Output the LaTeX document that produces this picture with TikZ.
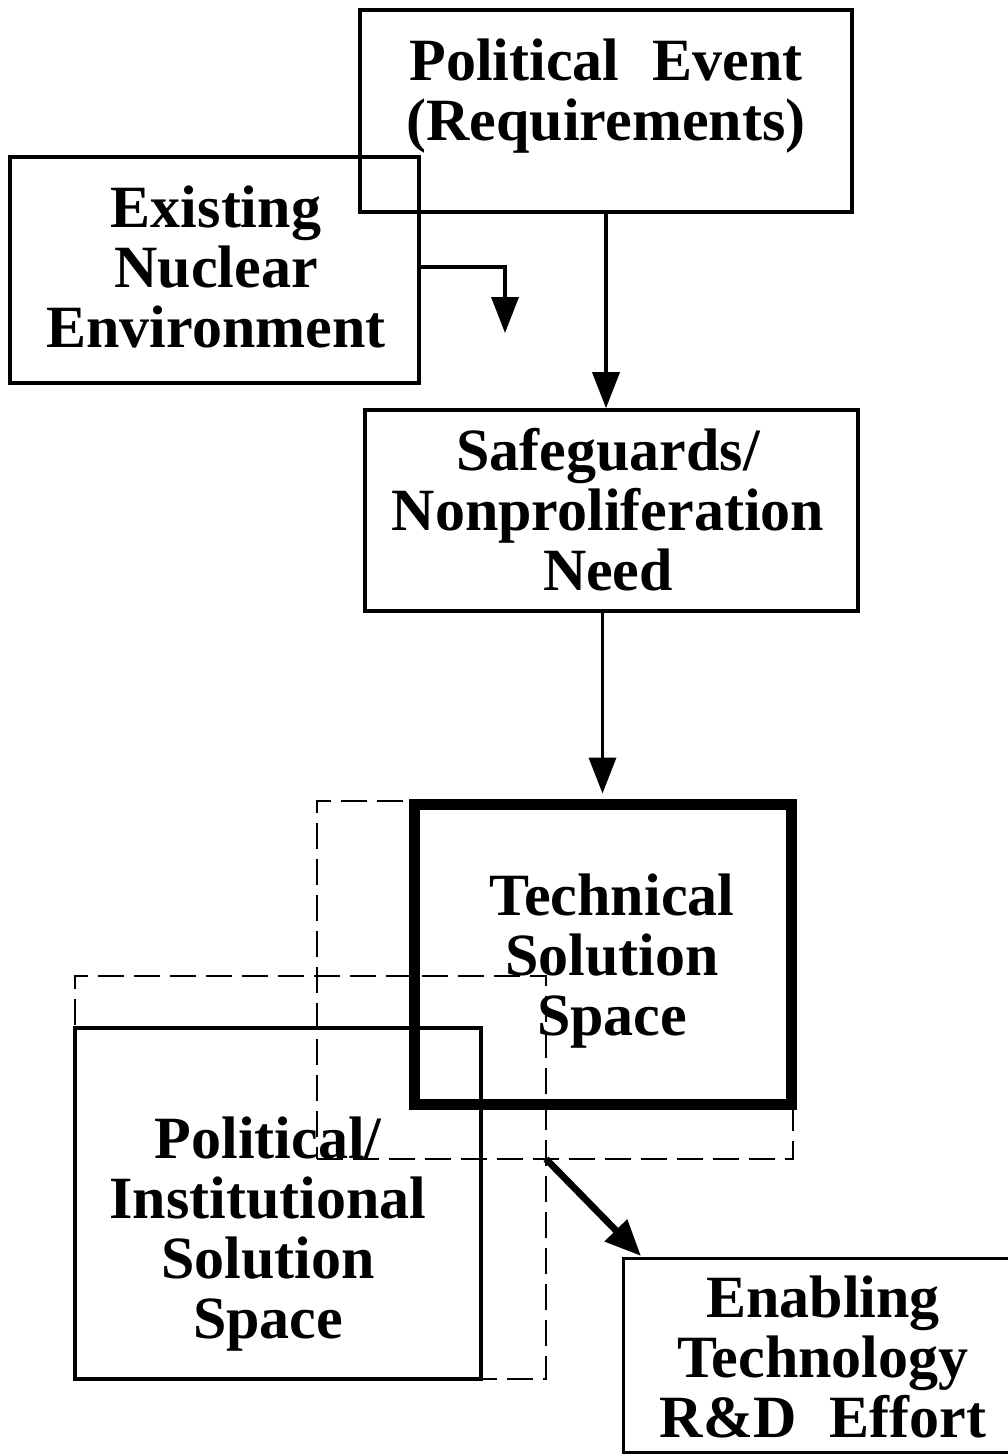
\documentclass[tikz,border=0pt]{standalone}
\usepackage{fontspec}
\setmainfont{Liberation Serif}
\usetikzlibrary{arrows.meta,fit}
\begin{document}
\begin{tikzpicture}[x=0.5pt,y=-0.5pt,
  box/.style={draw, line width=1.8pt, inner sep=0pt},
  boxline/.style={line width=1.8pt},
  thickbox/.style={draw, line width=5.5pt, inner sep=0pt},
  dashbox/.style={draw, line width=1.4pt, dash pattern=on 13pt off 5pt, inner sep=0pt},
  lbl/.style={align=center, inner sep=0pt, font=\fontsize{30}{30}\selectfont\bfseries},
  arr/.style={-{Triangle[length=18pt,width=13.5pt]}, line width=1.8pt},
  bigarr/.style={-{Triangle[length=18pt,width=15pt]}, line width=3.4pt}]
\useasboundingbox (0,0) rectangle (1007,1455);
% dashed solution regions
\node[dashbox, fit={(317,801) (793,1159)}] (dashA) {};
\node[dashbox, fit={(75,976) (546,1379)}] (dashB) {};
% boxes
\node[box, fit={(360,10) (852,212)}] (pe) {};
\node[box, fit={(10,157) (419,383)}] (ene) {};
\node[box, fit={(365,410) (858,611)}] (sg) {};
\node[box, fit={(75,1028) (481,1379)}] (pis) {};
\node[thickbox, fit={(414,804) (791,1104)}] (tss) {};
\node[inner sep=0pt, fit={(624,1259) (1100,1452)}] (en) {};
\draw[boxline] (en.north east) -- (en.north west) -- (en.south west) -- (en.south east);
% texts
\node[lbl] (tpe) at (606,96) {Political\hspace{0.55em}Event\\(Requirements)};
\node[lbl] (tene) at (216,267) {Existing\\Nuclear\\Environment};
\node[lbl] (tsg) at (608,510) {Safeguards/\\Nonproliferation\\Need};
\node[lbl] (ttss) at (612,961) {Technical\\Solution\\Space};
\node[lbl] (tpis) at (268,1234) {Political/\\Institutional\\Solution\\Space};
\node[lbl] (ten) at (823,1357) {Enabling\\Technology\\R\&D\hspace{0.55em}Effort};
% connectors
\coordinate (bent) at (505,333);
\coordinate (cross) at (546,1159);
\coordinate (rdtip) at (641,1256);
\draw[arr] (pe.south) -- (pe.south |- sg.north);
\draw[arr] (tss.north |- sg.south) -- ([yshift=2.5pt]tss.north);
\draw[arr] ([yshift=1.5pt]ene.east) -| (bent);
\draw[bigarr] (cross) -- (rdtip);
\end{tikzpicture}
\end{document}
